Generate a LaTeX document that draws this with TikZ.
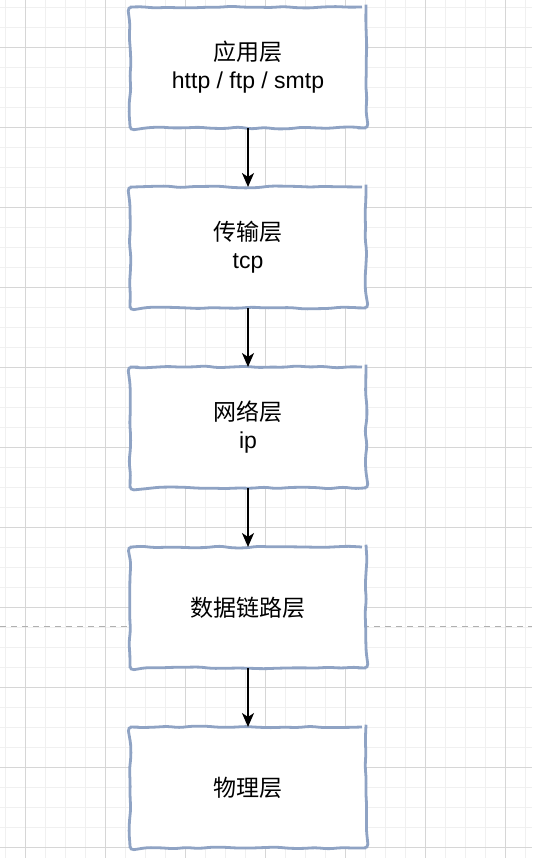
\documentclass[tikz,border=0pt]{standalone}
\usepackage{fontspec}
\setmainfont{Liberation Sans}
\newfontfamily\cjk{Noto Sans CJK SC}
\usetikzlibrary{positioning, arrows.meta, decorations.pathmorphing}
\definecolor{LayerBorder}{HTML}{8FA3C4}
\definecolor{GridMinor}{HTML}{F0F0F0}
\definecolor{GridMajor}{HTML}{D6D6D6}
\definecolor{SplitGray}{HTML}{B0B0B0}

\begin{document}
\begin{tikzpicture}[
    x=1pt, y=-1pt,
    layer/.style={draw=LayerBorder, line width=2.8pt, fill=white, minimum width=236pt, minimum height=121pt,
      inner sep=0pt, outer sep=0pt, align=center, font=\fontsize{23}{28}\selectfont, rounded corners=4pt,
      decorate, decoration={random steps, segment length=13pt, amplitude=1pt}},
    flow/.style={-{Stealth[length=14pt, width=12pt, inset=4pt]}, line width=2pt, black}
]
  \pgfmathsetseed{7}
  \useasboundingbox (0,0) rectangle (532,858);
  \fill[white] (0,0) rectangle (532,858);

  % Grid background
  \foreach \x in {5.5,25.5,...,525.5} \draw[GridMinor, line width=0.8pt] (\x,0) -- (\x,858);
  \foreach \y in {7.5,27.5,...,847.5} \draw[GridMinor, line width=0.8pt] (0,\y) -- (532,\y);
  \foreach \x in {25.5,105.5,...,505.5} \draw[GridMajor, line width=0.8pt] (\x,0) -- (\x,858);
  \foreach \y in {47.5,127.5,...,847.5} \draw[GridMajor, line width=0.8pt] (0,\y) -- (532,\y);

  % Page split
  \draw[SplitGray, line width=0.8pt, dash pattern=on 6pt off 5pt] (0,626) -- (532,626);

  % Layers
  \node[layer] (app) at (248,67.5) {{\cjk 应用层}\\http / ftp / smtp};
  \node[layer, below=59pt of app] (trans) {{\cjk 传输层}\\tcp};
  \node[layer, below=59pt of trans] (net) {{\cjk 网络层}\\ip};
  \node[layer, below=59pt of net] (link) {\cjk 数据链路层};
  \node[layer, below=59pt of link] (phy) {\cjk 物理层};

  \draw[flow] (app) -- (trans);
  \draw[flow] (trans) -- (net);
  \draw[flow] (net) -- (link);
  \draw[flow] (link) -- (phy);
\end{tikzpicture}
\end{document}
